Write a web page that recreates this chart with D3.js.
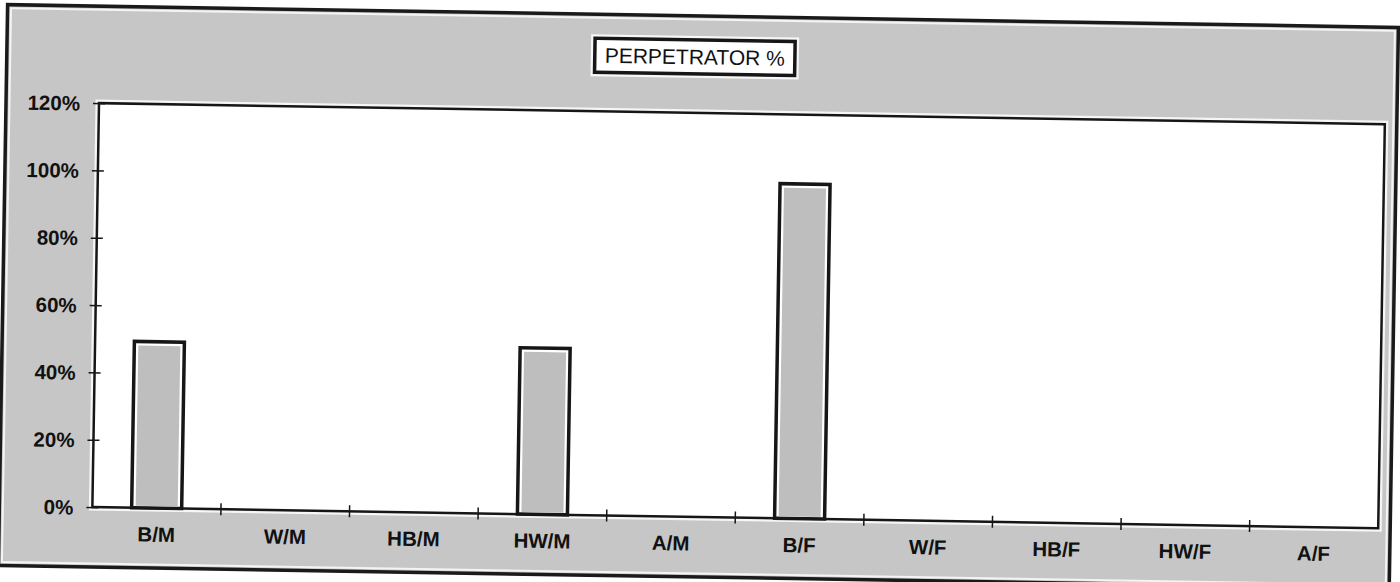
<!DOCTYPE html>
<html>
<head>
<meta charset="utf-8">
<script src="https://cdn.jsdelivr.net/npm/d3@7"></script>
<style>
  body { margin: 0; background: #fff; }
  svg { display: block; }
  text { font-family: "Liberation Sans", Arial, sans-serif; fill: #111; }
</style>
</head>
<body>
<div id="chart"></div>
<script>
// data
var categories = ["B/M", "W/M", "HB/M", "HW/M", "A/M", "B/F", "W/F", "HB/F", "HW/F", "A/F"];
var perpetratorPct = [50, 0, 0, 50, 0, 100, 0, 0, 0, 0];
var yTicks = [0, 20, 40, 60, 80, 100, 120];
var chartTitle = "PERPETRATOR %";

var width = 1400;
var height = 582;
var plot = { left: 96, right: 1382, top: 113, bottom: 517 };

var svg = d3.select('#chart')
    .append('svg')
    .attr('width', width)
    .attr('height', height);

// the scan is a little tilted
var g = svg.append('g')
    .attr('transform', 'rotate(0.94,700,291)');

// chart area
g.append('rect')
    .attr('x', 3).attr('y', 16)
    .attr('width', 1391).attr('height', 561)
    .attr('fill', '#c6c6c6')
    .attr('stroke', '#1a1a1a')
    .attr('stroke-width', 3.5);
g.append('rect')
    .attr('x', 6.5).attr('y', 19.5)
    .attr('width', 1384).attr('height', 554)
    .attr('fill', 'none')
    .attr('stroke', '#f4f4f4')
    .attr('stroke-width', 2);

var x = d3.scaleBand()
    .domain(categories)
    .range([plot.left, plot.right])
    .paddingInner(0.58)
    .paddingOuter(0.29);

var y = d3.scaleLinear()
    .domain([0, 120])
    .range([plot.bottom, plot.top]);

// plot area, white with a light halo
g.append('rect')
    .attr('x', plot.left - 2).attr('y', plot.top - 2)
    .attr('width', plot.right - plot.left + 4).attr('height', plot.bottom - plot.top + 4)
    .attr('fill', 'none')
    .attr('stroke', '#f6f6f6')
    .attr('stroke-width', 3);
g.append('rect')
    .attr('x', plot.left).attr('y', plot.top)
    .attr('width', plot.right - plot.left).attr('height', plot.bottom - plot.top)
    .attr('fill', '#fff')
    .attr('stroke', '#161616')
    .attr('stroke-width', 2.5);

// bars
var bars = g.selectAll('.bar')
    .data(categories.map(function(c, i) { return { cat: c, value: perpetratorPct[i] }; })
        .filter(function(d) { return d.value > 0; }))
    .enter()
    .append('g')
    .attr('class', 'bar');

bars.append('rect')
    .attr('x', function(d) { return x(d.cat) + 2; })
    .attr('y', function(d) { return y(d.value) + 2; })
    .attr('width', x.bandwidth() - 4)
    .attr('height', function(d) { return y(0) - y(d.value) - 2; })
    .attr('fill', '#fff')
    .attr('stroke', '#161616')
    .attr('stroke-width', 3.5);

bars.append('rect')
    .attr('x', function(d) { return x(d.cat) + 6; })
    .attr('y', function(d) { return y(d.value) + 6; })
    .attr('width', x.bandwidth() - 12)
    .attr('height', function(d) { return y(0) - y(d.value) - 8; })
    .attr('fill', '#bebebe');

// y axis
var yAxis = g.append('g')
    .attr('transform', 'translate(' + plot.left + ',0)')
    .call(d3.axisLeft(y)
        .tickValues(yTicks)
        .tickFormat(function(d) { return d + '%'; })
        .tickSize(6)
        .tickPadding(13));
yAxis.select('.domain').remove();
yAxis.selectAll('.tick line')
    .attr('x1', 6)
    .attr('stroke', '#161616')
    .attr('stroke-width', 1.5);
yAxis.selectAll('.tick text')
    .style('font-size', '20.5px')
    .style('font-weight', 'bold')
    .attr('dy', '0.35em');

// x axis: labels centered, ticks between categories
var xAxis = g.append('g')
    .attr('transform', 'translate(0,' + plot.bottom + ')')
    .call(d3.axisBottom(x).tickSize(0).tickPadding(19));
xAxis.select('.domain').remove();
xAxis.selectAll('.tick text')
    .style('font-size', '20.5px')
    .style('font-weight', 'bold')
    .attr('dy', '0.71em');

var edges = d3.scalePoint()
    .domain(d3.range(categories.length + 1))
    .range([plot.left, plot.right]);
g.selectAll('.xtick')
    .data(d3.range(1, categories.length))
    .enter()
    .append('line')
    .attr('class', 'xtick')
    .attr('x1', function(d) { return edges(d); })
    .attr('x2', function(d) { return edges(d); })
    .attr('y1', plot.bottom - 6)
    .attr('y2', plot.bottom + 6)
    .attr('stroke', '#161616')
    .attr('stroke-width', 1.5);

// title box
var titleG = g.append('g').attr('transform', 'translate(691,57)');
var titleText = titleG.append('text')
    .attr('text-anchor', 'middle')
    .attr('dy', '0.35em')
    .style('font-size', '21px')
    .text(chartTitle);
var bb = titleText.node().getBBox();
titleG.insert('rect', 'text')
    .attr('x', bb.x - 10).attr('y', -17)
    .attr('width', bb.width + 20).attr('height', 34)
    .attr('fill', '#fff')
    .attr('stroke', '#161616')
    .attr('stroke-width', 3.5);
titleG.insert('rect', 'rect')
    .attr('x', bb.x - 14).attr('y', -21)
    .attr('width', bb.width + 28).attr('height', 42)
    .attr('fill', '#f6f6f6');
</script>
</body>
</html>
